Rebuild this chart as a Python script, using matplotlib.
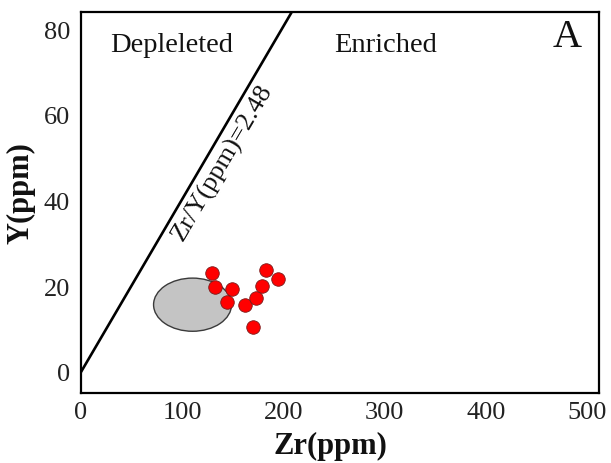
import matplotlib
matplotlib.use("Agg")
import matplotlib.pyplot as plt
from matplotlib.patches import Ellipse
import numpy as np

plt.rcParams['font.family'] = ['Liberation Serif', 'DejaVu Serif']

# Sample compositions (ppm)
zr_ppm = [129, 132, 149, 144, 162, 173, 179, 183, 195, 170]
y_ppm = [23.1, 19.8, 19.4, 16.4, 15.6, 17.3, 20.1, 23.8, 21.6, 10.5]

# Reference field (centre, width, height in ppm)
field_center = (110.2, 15.7)
field_width = 77
field_height = 12.4

# Discriminant ratio
zr_y_ratio = 2.48

x_ticks = [0, 100, 200, 300, 400, 500]
y_ticks = [0, 20, 40, 60, 80]

fig = plt.figure(figsize=(6.11, 4.64), dpi=100)
ax = fig.add_axes([81 / 611, 1 - 394 / 464, 518 / 611, 381 / 464])
ax.set_xlim(1.97, 511.8)
ax.set_ylim(-4.9, 83.97)

# Zr/Y divider line through the origin
y_line = np.array([-10.0, 100.0])
ax.plot(y_line * zr_y_ratio, y_line, color='black', lw=1.9, zorder=2)

ax.add_patch(Ellipse(field_center, field_width, field_height,
                     facecolor='#c4c4c4', edgecolor='#3a3a3a', lw=1.0, zorder=3))

ax.scatter(zr_ppm, y_ppm, s=95, c='#ff0000', edgecolors='#7a1a1a',
           linewidths=0.6, zorder=4)

ax.text(140.4, 49.1, 'Zr/Y(ppm)=2.48', rotation=59.5, rotation_mode='anchor',
        ha='center', va='center', fontsize=19, color='#111111')
ax.text(89.4, 76.3, 'Depleleted', ha='center', va='center', fontsize=20.5,
        color='#111111')
ax.text(300.9, 76.3, 'Enriched', ha='center', va='center', fontsize=20.5,
        color='#111111')
ax.text(480.8, 78.2, 'A', ha='center', va='center', fontsize=29,
        color='#111111')

ax.set_xticks(x_ticks)
ax.set_yticks(y_ticks)
ax.tick_params(axis='both', length=0, labelsize=19, labelcolor='#222222')
ax.tick_params(axis='x', pad=6)
ax.tick_params(axis='y', pad=8)
for s in ax.spines.values():
    s.set_linewidth(1.6)
    s.set_color('black')

fig.text(330.7 / 611, 1 - 446.7 / 464, 'Zr(ppm)', ha='center', va='center',
         fontsize=22, fontweight='bold', color='#111111')
fig.text(21 / 611, 1 - 193 / 464, 'Y(ppm)', ha='center', va='center',
         rotation=90, fontsize=22, fontweight='bold', color='#111111')

fig.savefig('out.png', dpi=100)
